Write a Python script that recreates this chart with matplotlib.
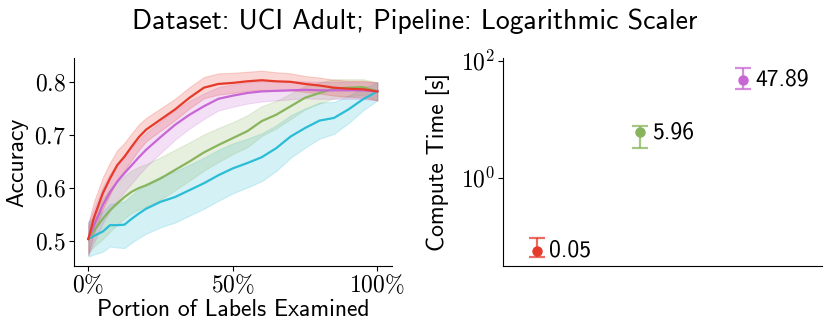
import matplotlib
matplotlib.use("Agg")
import matplotlib.pyplot as plt
import numpy as np

plt.rcParams['font.family'] = 'cmss10'
plt.rcParams['mathtext.fontset'] = 'cm'
plt.rcParams['axes.unicode_minus'] = False
plt.rcParams['axes.formatter.use_mathtext'] = True

# portion of labels examined
portion = [0.0, 0.02, 0.05, 0.075, 0.10, 0.125, 0.15, 0.175, 0.20, 0.25, 0.30, 0.35,
           0.40, 0.45, 0.50, 0.55, 0.60, 0.65, 0.70, 0.75, 0.80, 0.85, 0.90, 0.95, 1.0]

acc_red = [0.504, 0.545, 0.590, 0.618, 0.643, 0.659, 0.678, 0.696, 0.710, 0.729, 0.748, 0.770,
           0.789, 0.796, 0.798, 0.801, 0.803, 0.801, 0.800, 0.796, 0.793, 0.789, 0.787, 0.786, 0.782]
std_red = [0.030, 0.030, 0.030, 0.030, 0.028, 0.026, 0.025, 0.024, 0.022, 0.021, 0.020, 0.020,
           0.020, 0.020, 0.019, 0.018, 0.018, 0.017, 0.016, 0.015, 0.015, 0.015, 0.015, 0.016, 0.017]

acc_purple = [0.504, 0.530, 0.568, 0.592, 0.612, 0.628, 0.643, 0.658, 0.672, 0.696, 0.719, 0.738,
              0.754, 0.768, 0.774, 0.779, 0.782, 0.783, 0.784, 0.785, 0.784, 0.784, 0.784, 0.784, 0.782]
std_purple = [0.030, 0.032, 0.034, 0.035, 0.035, 0.035, 0.034, 0.033, 0.032, 0.030, 0.028, 0.026,
              0.024, 0.022, 0.021, 0.020, 0.019, 0.018, 0.017, 0.016, 0.016, 0.016, 0.016, 0.016, 0.017]

acc_green = [0.504, 0.520, 0.542, 0.558, 0.571, 0.583, 0.593, 0.600, 0.605, 0.618, 0.634, 0.650,
             0.667, 0.681, 0.694, 0.707, 0.726, 0.738, 0.754, 0.770, 0.779, 0.787, 0.789, 0.790, 0.782]
std_green = [0.025, 0.030, 0.038, 0.040, 0.040, 0.040, 0.040, 0.040, 0.040, 0.040, 0.038, 0.036,
             0.034, 0.032, 0.030, 0.030, 0.028, 0.026, 0.024, 0.022, 0.020, 0.018, 0.016, 0.015, 0.017]

acc_cyan = [0.504, 0.510, 0.518, 0.530, 0.530, 0.531, 0.542, 0.552, 0.561, 0.574, 0.583, 0.596,
            0.609, 0.624, 0.637, 0.647, 0.658, 0.675, 0.697, 0.713, 0.727, 0.732, 0.748, 0.767, 0.782]
std_cyan = [0.033, 0.035, 0.038, 0.040, 0.042, 0.044, 0.045, 0.046, 0.047, 0.048, 0.048, 0.048,
            0.048, 0.048, 0.047, 0.046, 0.045, 0.043, 0.040, 0.037, 0.034, 0.030, 0.026, 0.021, 0.017]

series = [
    (acc_cyan, std_cyan, '#2bbcd6'),
    (acc_green, std_green, '#88b45e'),
    (acc_purple, std_purple, '#c766d4'),
    (acc_red, std_red, '#e63a2b'),
]

# compute time (seconds) with error bar extents
time_labels = ['0.05', '5.96', '47.89']
time_mean = [0.0565, 5.96, 47.89]
time_low = [0.045, 3.22, 32.8]
time_high = [0.095, 7.74, 75.0]
time_colors = ['#e63a2b', '#88b45e', '#c766d4']

fig = plt.figure(figsize=(8.3, 3.33), dpi=100)
fig.suptitle('Dataset: UCI Adult; Pipeline: Logarithmic Scaler', fontsize=20,
             y=0.937, va='center')

ax = fig.add_axes([0.089, 0.201, 0.383, 0.625])
x = np.array(portion)
for acc, std, col in series:
    acc = np.array(acc)
    std = np.array(std)
    ax.fill_between(x, acc - std, acc + std, color=col, alpha=0.2, linewidth=0.8)
    ax.plot(x, acc, color=col, linewidth=1.6)

ax.set_xlim(-0.05, 1.05)
ax.set_ylim(0.453, 0.845)
ax.set_xticks([0, 0.5, 1.0])
ax.set_xticklabels([r'$0\%$', r'$50\%$', r'$100\%$'])
ax.set_yticks([0.5, 0.6, 0.7, 0.8])
ax.set_yticklabels([r'$0.5$', r'$0.6$', r'$0.7$', r'$0.8$'])
ax.tick_params(labelsize=17, length=3.5, pad=2)
ax.set_xlabel('Portion of Labels Examined', fontsize=17, labelpad=1)
ax.set_ylabel('Accuracy', fontsize=17, labelpad=4)
for s in ['top', 'right']:
    ax.spines[s].set_visible(False)

ax2 = fig.add_axes([0.606, 0.201, 0.384, 0.625])
for i, (m, lo, hi, col, lab) in enumerate(zip(time_mean, time_low, time_high, time_colors, time_labels)):
    ax2.errorbar([i], [m], yerr=[[m - lo], [hi - m]], fmt='none', ecolor=col, alpha=0.75,
                 elinewidth=1.6, capsize=6, capthick=1.6)
    ax2.plot([i], [m], 'o', color=col, markersize=6.5)
    ax2.annotate(lab, (i, m), xytext=(9, 0), textcoords='offset points', va='center',
                 ha='left', fontsize=17)

ax2.set_yscale('log')
ax2.set_ylim(0.031, 112)
ax2.set_xlim(-0.33, 2.77)
ax2.set_xticks([])
ax2.set_yticks([1, 100])
ax2.set_yticklabels([r'$10^0$', r'$10^2$'])
ax2.yaxis.set_minor_locator(matplotlib.ticker.NullLocator())
ax2.tick_params(labelsize=17, length=3.5, pad=2)
ax2.set_ylabel('Compute Time [s]', fontsize=17, labelpad=8)
for s in ['top', 'right']:
    ax2.spines[s].set_visible(False)

fig.savefig('out.png', dpi=100)
